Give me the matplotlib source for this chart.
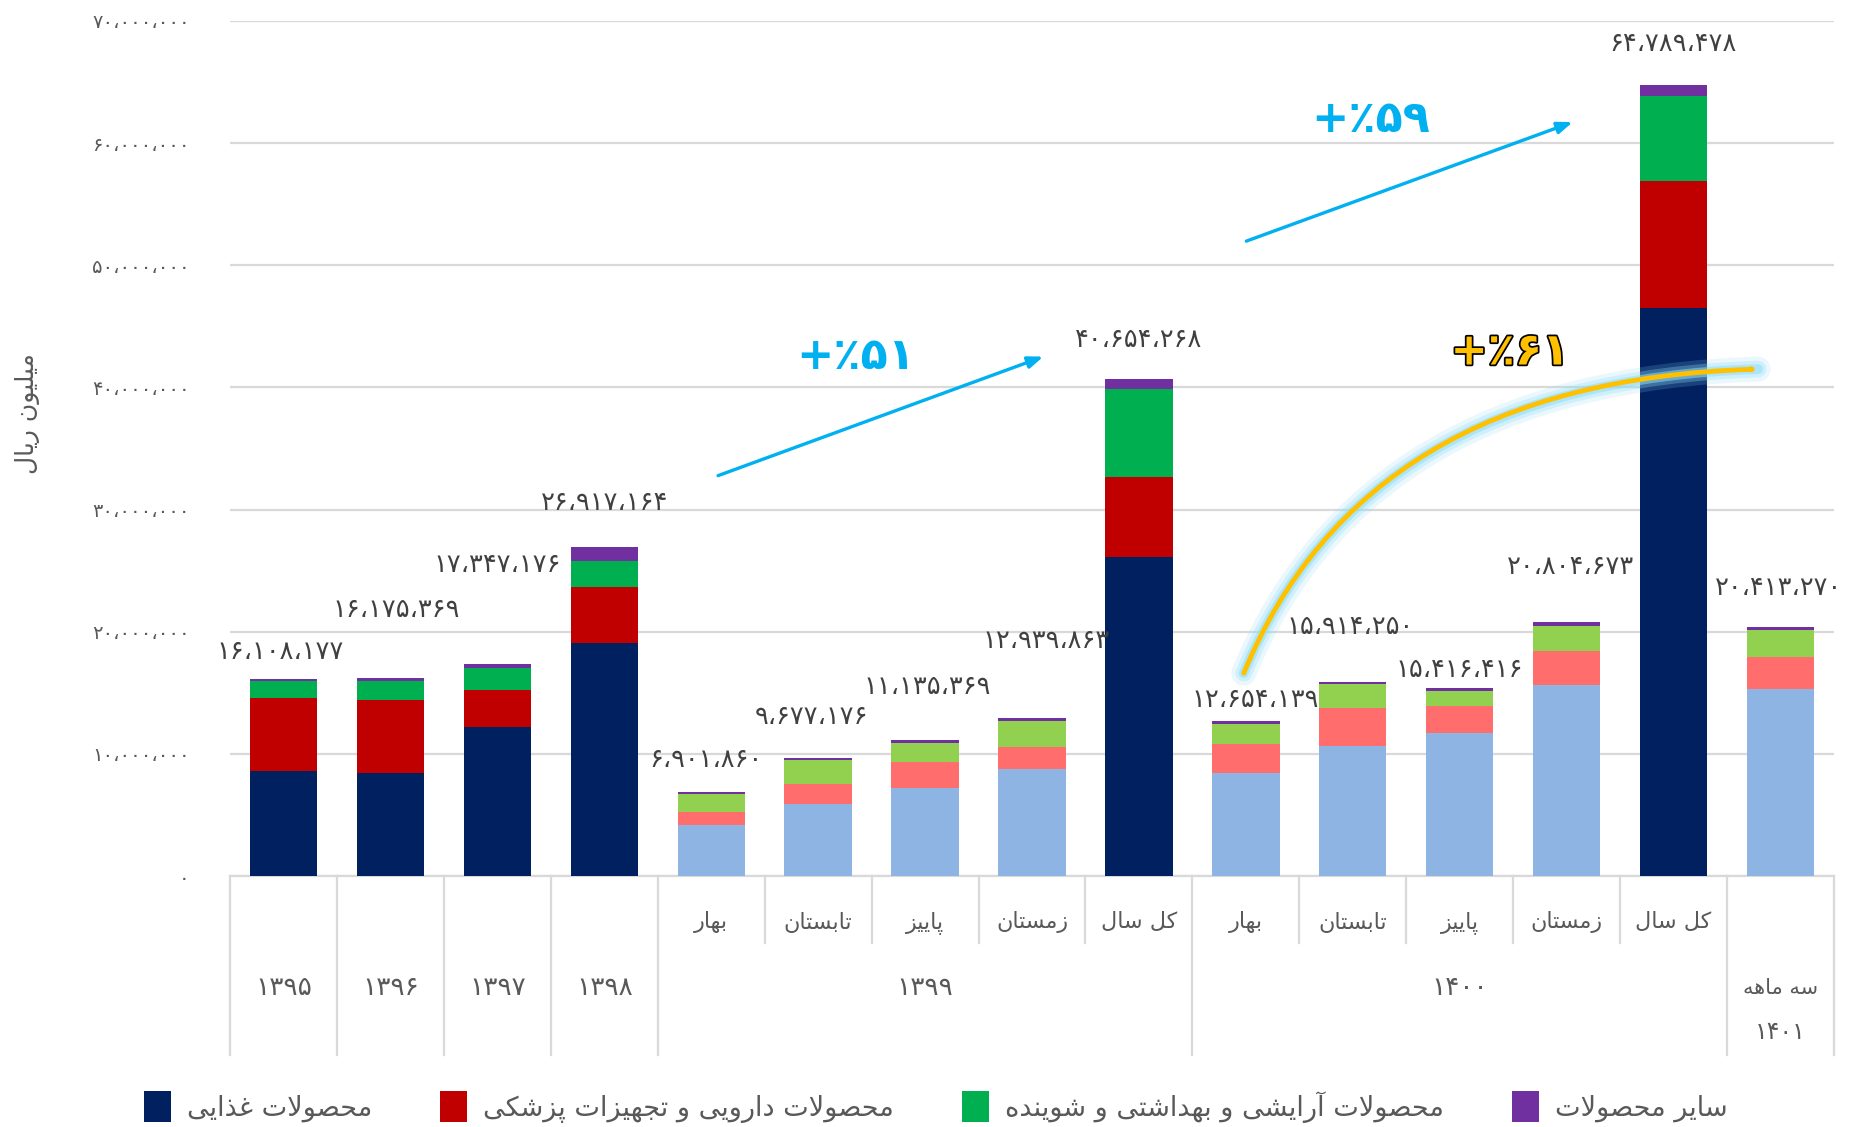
import matplotlib
matplotlib.use("Agg")
import matplotlib.pyplot as plt
import matplotlib.patheffects as pe
from matplotlib.patches import Patch, FancyArrowPatch
from matplotlib.path import Path
import matplotlib.transforms as mtransforms

plt.rcParams['font.family'] = ['DejaVu Sans']

# ---- data (values in rials, millions) ----
categories = ["۱۳۹۵", "۱۳۹۶", "۱۳۹۷", "۱۳۹۸",
              "بهار", "تابستان", "پاییز", "زمستان", "کل سال",
              "بهار", "تابستان", "پاییز", "زمستان", "کل سال",
              "سه ماهه"]
is_annual = [True, True, True, True,
             False, False, False, False, True,
             False, False, False, False, True,
             False]
food = [8.60, 8.40, 12.20, 19.10, 4.18, 5.93, 7.17, 8.75, 26.10, 8.47, 10.67, 11.69, 15.64, 46.50, 15.30]
pharma = [6.00, 6.05, 3.05, 4.60, 1.10, 1.64, 2.14, 1.81, 6.60, 2.31, 3.05, 2.19, 2.80, 10.40, 2.63]
cosmetic = [1.35, 1.55, 1.80, 2.05, 1.40, 1.90, 1.60, 2.15, 7.20, 1.65, 2.00, 1.26, 2.06, 6.95, 2.17]
other = [0.16, 0.175, 0.30, 1.17, 0.22, 0.20, 0.22, 0.23, 0.75, 0.22, 0.19, 0.27, 0.30, 0.94, 0.31]
totals = [16108177, 16175369, 17347176, 26917164, 6901860, 9677176, 11135369, 12939863,
          40654268, 12654139, 15914250, 15416416, 20804673, 64789478, 20413270]
groups = [("۱۳۹۹", 4, 8), ("۱۴۰۰", 9, 13)]
series_names = ["محصولات غذایی", "محصولات دارویی و تجهیزات پزشکی",
                "محصولات آرایشی و بهداشتی و شوینده", "سایر محصولات"]
dark_colors = ["#002060", "#C00000", "#00B050", "#7030A0"]
light_colors = ["#8EB4E3", "#FF6D6D", "#92D050", "#7030A0"]

# label placement (x offset in categories, y in millions)
label_dx = [-0.03, 0.05, 0.0, 0.0, -0.05, -0.06, 0.02, 0.13, 0.0, 0.09, -0.02, 0.0, 0.04, -0.01, -0.02]
label_y = [18.3, 21.8, 25.5, 30.5, 9.5, 13.0, 15.5, 19.2, 43.9, 14.4, 20.4, 16.9, 25.3, 68.1, 23.6]

FA_DIGITS = str.maketrans("0123456789,", "۰۱۲۳۴۵۶۷۸۹،")

FORMS = {
    'ا': ('\uFE8D', '\uFE8E', None, None),
    'آ': ('\uFE81', '\uFE82', None, None),
    'ب': ('\uFE8F', '\uFE90', '\uFE91', '\uFE92'),
    'پ': ('\uFB56', '\uFB57', '\uFB58', '\uFB59'),
    'ت': ('\uFE95', '\uFE96', '\uFE97', '\uFE98'),
    'ج': ('\uFE9D', '\uFE9E', '\uFE9F', '\uFEA0'),
    'ح': ('\uFEA1', '\uFEA2', '\uFEA3', '\uFEA4'),
    'د': ('\uFEA9', '\uFEAA', None, None),
    'ذ': ('\uFEAB', '\uFEAC', None, None),
    'ر': ('\uFEAD', '\uFEAE', None, None),
    'ز': ('\uFEAF', '\uFEB0', None, None),
    'س': ('\uFEB1', '\uFEB2', '\uFEB3', '\uFEB4'),
    'ش': ('\uFEB5', '\uFEB6', '\uFEB7', '\uFEB8'),
    'ص': ('\uFEB9', '\uFEBA', '\uFEBB', '\uFEBC'),
    'غ': ('\uFECD', '\uFECE', '\uFECF', '\uFED0'),
    'ک': ('\uFB8E', '\uFB8F', '\uFB90', '\uFB91'),
    'ل': ('\uFEDD', '\uFEDE', '\uFEDF', '\uFEE0'),
    'م': ('\uFEE1', '\uFEE2', '\uFEE3', '\uFEE4'),
    'ن': ('\uFEE5', '\uFEE6', '\uFEE7', '\uFEE8'),
    'ه': ('\uFEE9', '\uFEEA', '\uFEEB', '\uFEEC'),
    'و': ('\uFEED', '\uFEEE', None, None),
    'ی': ('\uFBFC', '\uFBFD', '\uFBFE', '\uFBFF'),
}


def fa(text):
    # shape persian letters and put them in visual (left-to-right) order
    if not any(c in FORMS for c in text):
        return text
    out = []
    i, n = 0, len(text)
    while i < n:
        c = text[i]
        if c not in FORMS:
            out.append(c)
            i += 1
            continue
        prev = text[i - 1] if i > 0 else None
        link_prev = prev in FORMS and FORMS[prev][2] is not None
        if c == 'ل' and i + 1 < n and text[i + 1] in ('ا', 'آ'):
            if text[i + 1] == 'ا':
                out.append('\uFEFC' if link_prev else '\uFEFB')
            else:
                out.append('\uFEF6' if link_prev else '\uFEF5')
            i += 2
            continue
        nxt = text[i + 1] if i + 1 < n else None
        link_next = FORMS[c][2] is not None and nxt in FORMS
        iso, fin, ini, med = FORMS[c]
        if link_prev and link_next:
            out.append(med)
        elif link_prev:
            out.append(fin)
        elif link_next:
            out.append(ini)
        else:
            out.append(iso)
        i += 1
    return ''.join(reversed(out))


def fa_num(v):
    return f"{v:,}".translate(FA_DIGITS)


TXT = "#595959"
GRID = "#D9D9D9"

fig = plt.figure(figsize=(18.53, 11.27), dpi=100)
ax = fig.add_axes([230 / 1853, 251 / 1127, 1604 / 1853, 855 / 1127])

x = list(range(len(categories)))
series = [food, pharma, cosmetic, other]
bottom = [0.0] * len(x)
for s_idx, vals in enumerate(series):
    cols = [dark_colors[s_idx] if a else light_colors[s_idx] for a in is_annual]
    ax.bar(x, [v * 1e6 for v in vals], bottom=[b * 1e6 for b in bottom],
           width=0.63, color=cols, zorder=3)
    bottom = [b + v for b, v in zip(bottom, vals)]

for i, t in enumerate(totals):
    ax.text(i + label_dx[i], label_y[i] * 1e6, fa_num(t), ha='center', va='center',
            fontsize=18.5, color="#404040", zorder=5)

ax.set_xlim(-0.5, len(x) - 0.5)
ax.set_ylim(0, 70e6)
yt = [k * 10_000_000 for k in range(8)]
ax.set_yticks(yt)
ax.set_yticklabels([fa_num(v) for v in yt], fontsize=14, color=TXT)
ax.tick_params(axis='y', length=0, pad=29)
ax.tick_params(axis='x', length=0, labelbottom=False)
ax.grid(axis='y', color=GRID, linewidth=1.6, zorder=0)
for sp in ['top', 'right', 'left']:
    ax.spines[sp].set_visible(False)
ax.spines['bottom'].set_color(GRID)
ax.spines['bottom'].set_linewidth(1.6)

# multi-level category axis
trans = mtransforms.blended_transform_factory(ax.transData, ax.transAxes)
row1, row2, row3 = -0.054, -0.131, -0.1825
short_bottom, long_bottom = -0.078, -0.209
long_edges = [-0.5, 0.5, 1.5, 2.5, 3.5, 8.5, 13.5, 14.5]
for e in range(len(x) + 1):
    xe = e - 0.5
    yb = long_bottom if xe in long_edges else short_bottom
    ax.plot([xe, xe], [0, yb], transform=trans, color=GRID, lw=1.6, clip_on=False)

for i, name in enumerate(categories):
    if is_annual[i] and i < 4:
        ax.text(i, row2, name, transform=trans, ha='center', va='center', fontsize=19, color=TXT)
    elif i == len(x) - 1:
        ax.text(i, row2, fa(name), transform=trans, ha='center', va='center', fontsize=15, color=TXT)
        ax.text(i, row3, "۱۴۰۱", transform=trans, ha='center', va='center', fontsize=17, color=TXT)
    else:
        ax.text(i, row1, fa(name), transform=trans, ha='center', va='center', fontsize=16, color=TXT)
for name, a, b in groups:
    ax.text((a + b) / 2, row2, name, transform=trans, ha='center', va='center', fontsize=19, color=TXT)

fig.text(28 / 1853, 1 - 414 / 1127, fa("میلیون ریال"), rotation=90, ha='center', va='center',
         fontsize=18, color=TXT)

# growth annotations
blue = "#00B0F0"
for (x0, y0, x1, y1) in [(4.04, 32.7, 7.13, 42.6), (8.98, 51.9, 12.08, 61.8)]:
    ax.annotate("", xy=(x1, y1 * 1e6), xytext=(x0, y0 * 1e6),
                arrowprops=dict(arrowstyle="-|>,head_length=0.9,head_width=0.35", color=blue, lw=2.4),
                zorder=6)
ax.text(5.35, 42.5e6, "+٪۵۱", ha='center', va='center', fontsize=32, fontweight='bold', color=blue, zorder=6)
ax.text(10.17, 61.9e6, "+٪۵۹", ha='center', va='center', fontsize=32, fontweight='bold', color=blue, zorder=6)

curve = Path([(8.98, 16.6e6), (10.1, 40.5e6), (13.79, 41.5e6)],
             [Path.MOVETO, Path.CURVE3, Path.CURVE3])
for lw, al in [(18, 0.18), (12, 0.3), (7, 0.55)]:
    glow = FancyArrowPatch(path=curve, arrowstyle="-", color="#8FDDF7", lw=lw, alpha=al, zorder=6,
                           capstyle='round')
    ax.add_patch(glow)
arr = FancyArrowPatch(path=curve, arrowstyle="-|>,head_length=0.8,head_width=0.35", color="#FFC000",
                      lw=3.5, zorder=7)
ax.add_patch(arr)
ax.text(11.47, 42.9e6, "+٪۶۱", ha='center', va='center', fontsize=32, fontweight='bold', color="#FFC000",
        zorder=7, path_effects=[pe.withStroke(linewidth=2.5, foreground="black")])

handles = [Patch(facecolor=c, edgecolor='none') for c in dark_colors]
fig.legend(handles, [fa(s) for s in series_names], loc='center', bbox_to_anchor=(0.505, 0.018),
           ncol=4, frameon=False, fontsize=19.5, labelcolor=TXT, handlelength=1.0, handleheight=1.4,
           columnspacing=2.5, handletextpad=0.6)

fig.savefig("out.png", dpi=100)
